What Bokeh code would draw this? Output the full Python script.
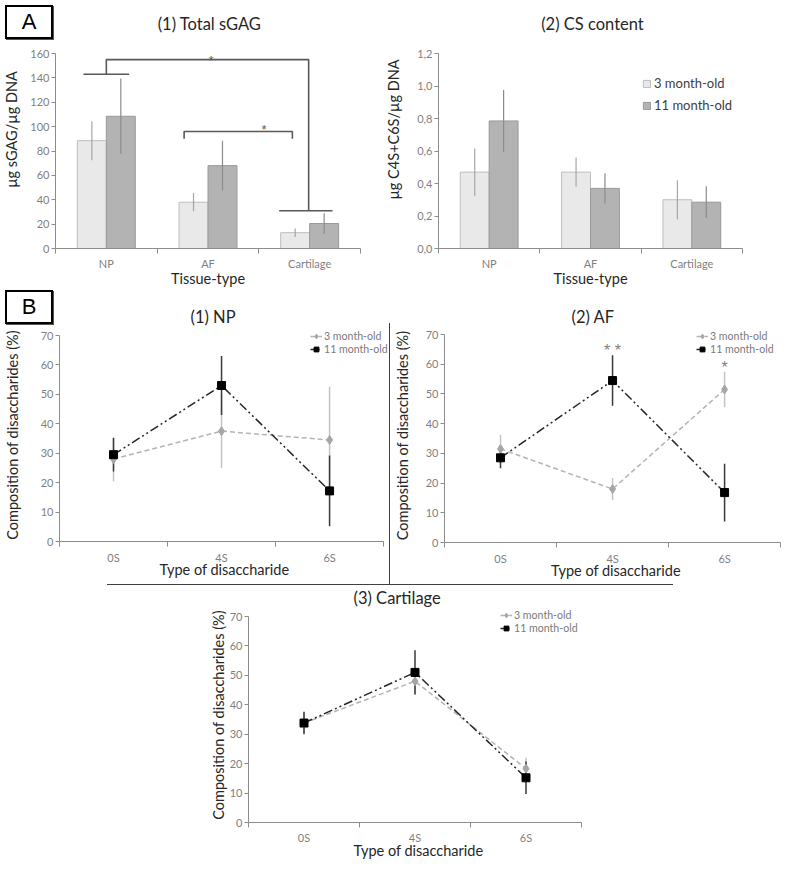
from bokeh.plotting import figure
from bokeh.models import (Range1d, FixedTicker, CustomJSTickFormatter, Legend, LegendItem,
                          Label, Div, Spacer, GridBox)
from bokeh.layouts import row, column
from bokeh.embed import file_html
from bokeh.resources import INLINE

# ---------------- data ----------------
tissues = ["NP", "AF", "Cartilage"]
ages = ["3 month-old", "11 month-old"]

sgag_3m = [88.5, 38, 13]
sgag_3m_err = [16, 7.5, 3.5]
sgag_11m = [108.5, 68, 20.5]
sgag_11m_err = [31, 20.5, 8.5]

cs_3m = [0.47, 0.47, 0.30]
cs_3m_err = [0.145, 0.09, 0.12]
cs_11m = [0.785, 0.37, 0.285]
cs_11m_err = [0.19, 0.093, 0.098]

disaccharides = ["0S", "4S", "6S"]
np_3m = [28, 37.5, 34.5]
np_3m_err = [7.5, 12.5, 18.2]
np_11m = [29.5, 53, 17.2]
np_11m_err = [5.7, 10, 12]
af_3m = [31.5, 18, 51.5]
af_3m_err = [4.8, 3.7, 6]
af_11m = [28.5, 54.5, 16.8]
af_11m_err = [3.5, 8.5, 9.7]
cart_3m = [33.8, 48, 18.3]
cart_3m_err = [3.5, 4.5, 3.7]
cart_11m = [33.8, 51, 15.2]
cart_11m_err = [3.8, 7.5, 5.5]
af_sig = ["", "* *", "*"]
af_sig_y = [0, 64.5, 59]

# significance brackets in panel A(1) (x in category units, y in data units)
bracket_xs = [[0.275, 0.725], [0.5, 0.5, 2.49, 2.49], [2.2, 2.725], [1.265, 1.265, 2.33, 2.33]]
bracket_ys = [[143, 143], [143, 155, 155, 31], [31, 31], [90, 96, 96, 90]]
star_x = [1.53, 2.05]
star_y = [154.5, 97.5]

# ---------------- style ----------------
FONT = "Lato"
AX = "#8c8c8c"
TICK_TXT = "#7f7f7f"
LAB_TXT = "#262626"
BAR_W = 0.285


def base_fig(fig_x, fig_w, fig_y, fig_h, ax_x0, ax_x1, frame_r, ax_y0, ax_ytop, frame_t,
             ymax, yticks, cats, ylabel, xlabel, ylab_standoff, xtick_standoff, xlab_standoff):
    """geometry given in page pixels; ranges derived so axis spans ax_x0..ax_x1 / ax_y0..ax_ytop"""
    ncat = len(cats)
    x_end = ncat * (frame_r - ax_x0) / (ax_x1 - ax_x0)
    y_end = ymax * (ax_y0 - frame_t) / (ax_y0 - ax_ytop)
    p = figure(width=fig_w, height=fig_h, output_backend="svg", toolbar_location=None,
               x_range=Range1d(0, x_end), y_range=Range1d(0, y_end),
               min_border_left=ax_x0 - fig_x, min_border_right=fig_x + fig_w - frame_r,
               min_border_top=frame_t - fig_y, min_border_bottom=fig_y + fig_h - ax_y0)
    p.outline_line_color = None
    p.xgrid.visible = False
    p.ygrid.visible = False
    p.background_fill_color = "white"
    p.border_fill_color = "white"
    xa = p.xaxis[0]
    xa.bounds = (0, ncat)
    xa.ticker = FixedTicker(ticks=[i + 0.5 for i in range(ncat)],
                            minor_ticks=[i for i in range(ncat + 1)])
    xa.formatter = CustomJSTickFormatter(args=dict(labels=cats),
                                         code="return labels[Math.floor(tick)];")
    xa.major_tick_line_color = None
    xa.major_tick_out = 0
    xa.major_tick_in = 0
    xa.minor_tick_line_color = AX
    xa.minor_tick_out = 5
    xa.minor_tick_in = 0
    xa.major_label_standoff = xtick_standoff
    xa.axis_label = xlabel
    xa.axis_label_standoff = xlab_standoff
    ya = p.yaxis[0]
    ya.bounds = (0, ymax)
    ya.ticker = FixedTicker(ticks=yticks)
    ya.major_tick_out = 4
    ya.major_tick_in = 0
    ya.major_tick_line_color = AX
    ya.minor_tick_line_color = None
    ya.major_label_standoff = 2
    ya.axis_label = ylabel
    ya.axis_label_standoff = ylab_standoff
    for ax in (xa, ya):
        ax.axis_line_color = AX
        ax.axis_line_width = 1
        ax.major_label_text_color = TICK_TXT
        ax.major_label_text_font = FONT
        ax.major_label_text_font_size = "11px"
        ax.axis_label_text_font = FONT
        ax.axis_label_text_font_size = "14.5px"
        ax.axis_label_text_font_style = "normal"
        ax.axis_label_text_color = LAB_TXT
    return p


def label_title(p, text, x, y):
    p.add_layout(Label(x=x, y=y, x_units="screen", y_units="screen", text=text,
                       text_align="center", text_baseline="middle", text_font=FONT,
                       text_font_size="16.5px", text_color=LAB_TXT))


def panel_title(p, text, offset, standoff):
    p.title.text = text
    p.title.align = "left"
    p.title.offset = offset
    p.title.standoff = standoff
    p.title.text_font = FONT
    p.title.text_font_size = "16.5px"
    p.title.text_font_style = "normal"
    p.title.text_color = LAB_TXT


def box(text, top, left):
    return Div(text=text, width=48, height=34, margin=(top, 0, 0, left),
               styles={"border": "2px solid black", "box-sizing": "border-box",
                       "background-color": "white", "font-family": "Liberation Sans",
                       "font-size": "22px", "line-height": "30px", "text-align": "center",
                       "color": "black", "box-shadow": "1px 1px 0 #555"})


def bar_panel(vals3, err3, vals11, err11, ymax, yticks, ylabel, fig_x, fig_w, ax_x0, ax_x1,
              ylab_standoff):
    p = base_fig(fig_x, fig_w, 0, 290, ax_x0, ax_x1, ax_x1, 248, 53, 10, ymax, yticks, tissues,
                 ylabel, "Tissue-type", ylab_standoff, 3, -3)
    centers = [i + 0.5 for i in range(len(tissues))]
    x3 = [c - BAR_W / 2 for c in centers]
    x11 = [c + BAR_W / 2 for c in centers]
    r3 = p.vbar(x=x3, top=vals3, width=BAR_W, bottom=0, fill_color="#e9e9e9",
                line_color="#bdbdbd", line_width=1)
    r11 = p.vbar(x=x11, top=vals11, width=BAR_W, bottom=0, fill_color="#b3b3b3",
                 line_color="#999999", line_width=1)
    p.segment(x0=x3, x1=x3, y0=[v - e for v, e in zip(vals3, err3)],
              y1=[v + e for v, e in zip(vals3, err3)], line_color="#a6a6a6", line_width=1.2)
    p.segment(x0=x11, x1=x11, y0=[v - e for v, e in zip(vals11, err11)],
              y1=[v + e for v, e in zip(vals11, err11)], line_color="#8c8c8c", line_width=1.2)
    return p, r3, r11


# ---------------- panel A(1) ----------------
pA1, _, _ = bar_panel(sgag_3m, sgag_3m_err, sgag_11m, sgag_11m_err, 160,
                      list(range(0, 161, 20)), "\u00b5g sGAG/\u00b5g DNA", 0, 382, 54, 360, 7)
pA1.multi_line(xs=bracket_xs, ys=bracket_ys, line_color="#595959", line_width=1.6)
pA1.text(x=star_x, y=star_y, text=["*", "*"], text_align="center", text_baseline="middle",
         text_font_size="13px", text_color="#595959")
label_title(pA1, "(1) Total sGAG", 154, 225)

# ---------------- panel A(2) ----------------
pA2, rA3, rA11 = bar_panel(cs_3m, cs_3m_err, cs_11m, cs_11m_err, 1.2,
                           [0, 0.2, 0.4, 0.6, 0.8, 1.0, 1.2], "\u00b5g C4S+C6S/\u00b5g DNA",
                           382, 405, 436, 742, 12)
pA2.yaxis[0].formatter = CustomJSTickFormatter(code="return tick.toFixed(1).replace('.', ',');")
legA = Legend(items=[LegendItem(label=ages[0], renderers=[rA3]),
                     LegendItem(label=ages[1], renderers=[rA11])],
              location=(204, 135), padding=0, margin=0, spacing=6,
              glyph_width=9, glyph_height=9, label_height=16, label_standoff=3,
              label_text_font=FONT, label_text_font_size="13px", label_text_color="#404040",
              border_line_color=None, background_fill_alpha=0)
pA2.add_layout(legA)
label_title(pA2, "(2) CS content", 154, 225)


# ---------------- line panels ----------------
def line_panel(v3, e3, v11, e11, fig_x, fig_w, fig_y, fig_h, ax_x0, ax_x1, frame_r,
               ax_y0, ax_ytop, frame_t, ylab_standoff, xtick_standoff, xlab_standoff,
               title, toff, tstand, lxy):
    p = base_fig(fig_x, fig_w, fig_y, fig_h, ax_x0, ax_x1, frame_r, ax_y0, ax_ytop, frame_t,
                 70, list(range(0, 71, 10)), disaccharides,
                 "Composition of disaccharides (%)", "Type of disaccharide",
                 ylab_standoff, xtick_standoff, xlab_standoff)
    x = [i + 0.5 for i in range(len(disaccharides))]
    p.segment(x0=x, x1=x, y0=[v - e for v, e in zip(v3, e3)], y1=[v + e for v, e in zip(v3, e3)],
              line_color="#c4c4c4", line_width=1.5)
    l3 = p.line(x=x, y=v3, line_color="#b3b3b3", line_width=1.5, line_dash="5 3")
    p.segment(x0=x, x1=x, y0=[v - e for v, e in zip(v11, e11)],
              y1=[v + e for v, e in zip(v11, e11)], line_color="#3a3a3a", line_width=1.5)
    l11 = p.line(x=x, y=v11, line_color="#262626", line_width=1.5, line_dash="9 3 2 3 2 3")
    m3 = p.scatter(x=x, y=v3, marker="diamond", size=9, fill_color="#a6a6a6", line_color="#a6a6a6")
    m11 = p.scatter(x=x, y=v11, marker="square", size=8, fill_color="black", line_color="black")
    leg = Legend(items=[LegendItem(label=ages[0], renderers=[l3, m3]),
                        LegendItem(label=ages[1], renderers=[l11, m11])],
                 location=lxy, padding=0, margin=0, spacing=0,
                 glyph_width=12, glyph_height=12, label_height=13, label_standoff=2,
                 label_text_font=FONT, label_text_font_size="10.6px", label_text_color="#7a7a7a",
                 border_line_color=None, background_fill_alpha=0)
    p.add_layout(leg)
    panel_title(p, title, toff, tstand)
    return p, x


pB1, _ = line_panel(np_3m, np_3m_err, np_11m, np_11m_err, 0, 389, 290, 294,
                    54, 383, 389, 541, 335, 328, 17, 4, -6, "(1) NP", 131, 4, (251, 186))

pB2, xB2 = line_panel(af_3m, af_3m_err, af_11m, af_11m_err, 390, 397, 290, 294,
                      439, 780, 787, 542, 334, 328, 12, 4, -6, "(2)  AF", 127, 3, (252, 187))
pB2.text(x=xB2, y=af_sig_y, text=af_sig, text_align="center", text_baseline="middle",
         text_font_size="16px", text_color="#7f7f7f")

pB3, _ = line_panel(cart_3m, cart_3m_err, cart_11m, cart_11m_err, 198, 402, 585, 284,
                    248, 581, 588, 822, 616, 607, 0, 3, -5, "(3) Cartilage", 105, 0, (252, 188))

# ---------------- boxes and divider lines ----------------
cellA1 = GridBox(children=[(pA1, 0, 0), (box("A", 5, 5), 0, 0)])
cellB1 = GridBox(children=[(pB1, 0, 0), (box("B", 0, 5), 0, 0)])

vline = column(Spacer(width=1, height=33, margin=0),
               Div(width=1, height=261, margin=0, styles={"background-color": "#404040"}),
               spacing=0)
hline = row(Spacer(width=107, height=1, margin=0),
            Div(width=566, height=1, margin=0, styles={"background-color": "#404040"}),
            spacing=0)

layout = column(
    row(cellA1, pA2, spacing=0),
    row(cellB1, vline, pB2, spacing=0),
    hline,
    row(Spacer(width=198, height=284, margin=0), pB3, spacing=0),
    spacing=0,
)

open("out.html", "w").write(file_html(layout, INLINE))
